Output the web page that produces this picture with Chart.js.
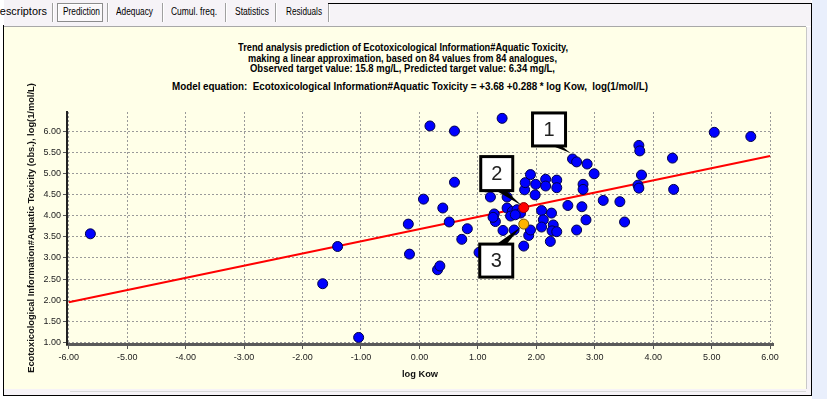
<!DOCTYPE html>
<html><head><meta charset="utf-8">
<script src="https://cdn.jsdelivr.net/npm/chart.js@4.4.0/dist/chart.umd.min.js"></script>
<style>
html,body{margin:0;padding:0;width:827px;height:399px;overflow:hidden;background:#ffffff;font-family:"Liberation Sans",Arial,sans-serif;}
.abs{position:absolute;}
#rightbg{left:812px;top:0;width:15px;height:399px;background:#E9EFFC;}
#tabstrip{left:4px;top:0;width:807px;height:26px;background:#F6F3F7;}
#tabline{left:4px;top:26px;width:802px;height:1px;background:#A8A8A8;}
#panel{left:4px;top:27px;width:802px;height:362px;background:#FFFFE8;}
#rstrip{left:806px;top:27px;width:5px;height:368px;background:#F6F3F7;border-left:1px solid #C8C8C8;box-sizing:border-box;}
#bstrip{left:4px;top:389px;width:807px;height:6px;background:#F6F3F7;}
#bline2{left:70px;top:391px;width:736px;height:1px;background:#D8D8D8;}
#bl{left:3px;top:25px;width:1px;height:371px;background:#000;}
#br{left:811px;top:3px;width:1px;height:393px;background:#000;}
#bb{left:3px;top:395px;width:809px;height:1px;background:#000;}
#bt{left:328px;top:3px;width:484px;height:1px;background:#000;}
.sep{top:3px;width:1px;height:19px;background:#A0A0A0;box-shadow:1px 0 0 #fff;}
.tab{top:6px;font-size:10px;color:#000;white-space:nowrap;transform-origin:0 50%;}
#sel{left:57px;top:3px;width:44px;height:17px;border:1px solid #8C8C8C;background:#FAF8FA;box-shadow:inset 1px 1px 0 #fff;}
.tl{font-weight:bold;font-size:10.5px;color:#000;white-space:nowrap;transform-origin:0 50%;line-height:10px;}
canvas{position:absolute;left:0;top:0;}
</style>
</head><body>
<div id="rightbg" class="abs"></div>
<div id="tabstrip" class="abs"></div>
<div id="sel" class="abs"></div>
<div class="abs sep" style="left:52px"></div>
<div class="abs sep" style="left:107px"></div>
<div class="abs sep" style="left:162px"></div>
<div class="abs sep" style="left:225px"></div>
<div class="abs sep" style="left:275px"></div>
<div class="abs sep" style="left:328px"></div>
<div class="abs tab" data-x0="-8" data-x1="47">Descriptors</div>
<div class="abs tab" data-x0="63" data-x1="100">Prediction</div>
<div class="abs tab" data-x0="116" data-x1="153">Adequacy</div>
<div class="abs tab" data-x0="171" data-x1="217">Cumul. freq.</div>
<div class="abs tab" data-x0="235" data-x1="269">Statistics</div>
<div class="abs tab" data-x0="286" data-x1="322">Residuals</div>
<div id="tabline" class="abs"></div>
<div id="panel" class="abs"></div>
<div id="rstrip" class="abs"></div>
<div id="bstrip" class="abs"></div>
<div id="bline2" class="abs"></div>
<div id="bl" class="abs"></div>
<div id="br" class="abs"></div>
<div id="bb" class="abs"></div>
<div id="bt" class="abs"></div>
<div class="abs tl" data-x0="238" data-x1="568" style="top:42px">Trend analysis prediction of Ecotoxicological Information#Aquatic Toxicity,</div>
<div class="abs tl" data-x0="248" data-x1="557" style="top:53px">making a linear approximation, based on 84 values from 84 analogues,</div>
<div class="abs tl" data-x0="250" data-x1="555" style="top:63px">Observed target value: 15.8 mg/L, Predicted target value: 6.34 mg/L,</div>
<div class="abs tl" data-x0="172" data-x1="648" style="top:81px">Model equation:&nbsp; Ecotoxicological Information#Aquatic Toxicity = +3.68 +0.288 * log Kow,&nbsp; log(1/mol/L)</div>
<canvas id="c" width="827" height="399"></canvas>
<script>
// ---- data ----
const obsX = [-5.63,-1.40,-1.655,-1.04,-0.19,-0.17,0.07,0.18,0.31,0.35,
  0.40,0.51,0.60,0.60,0.725,0.82,1.02,1.14,1.215,1.28,
  1.30,1.415,1.43,1.50,1.50,1.59,1.67,1.73,1.56,1.64,
  1.62,1.785,1.80,1.81,1.87,1.90,1.90,1.99,1.98,2.09,
  2.12,2.09,2.16,2.16,2.26,2.29,2.27,2.35,2.24,2.35,
  2.35,2.54,2.62,2.69,2.69,2.78,2.80,2.80,2.85,2.87,
  2.99,3.145,3.43,3.51,3.755,3.77,3.80,3.74,3.755,4.33,
  4.35,5.045,5.67,1.26];
const obsY = [3.57,3.27,2.39,1.12,3.80,3.09,4.39,6.12,2.72,2.81,
  4.18,3.85,4.79,6.00,3.44,3.69,3.13,4.68,4.44,4.04,
  3.86,6.30,3.65,4.44,4.18,4.10,4.14,4.06,3.99,4.02,
  3.66,3.28,4.61,4.78,3.53,3.66,4.97,4.74,4.49,4.12,
  3.90,3.73,4.86,4.70,4.06,3.78,3.64,3.62,3.39,4.84,
  4.66,4.24,5.34,5.27,3.66,4.21,4.74,4.62,3.90,5.22,
  4.99,4.36,4.33,3.85,5.66,5.53,4.96,4.72,4.65,5.36,
  4.62,5.97,5.87,3.96];
const lineX = [-6, 6];
const lineY = [1.95, 5.41];
const predX = [1.785], predY = [4.19];
const targX = [1.785], targY = [3.80];
const calloutLabels = ['1','2','3'];
const calloutX = [2.62, 1.785, 1.785];
const calloutY = [5.34, 4.19, 3.80];
const xTicks = [-6,-5,-4,-3,-2,-1,0,1,2,3,4,5,6];
const yTicks = [1,1.5,2,2.5,3,3.5,4,4.5,5,5.5,6];
const xTitle = 'log Kow';
const yTitle = 'Ecotoxicological Information#Aquatic Toxicity (obs.), log(1/mol/L)';

// ---- fit the HTML text widths ----
document.querySelectorAll('.tab, .tl').forEach(el=>{
  const x0=+el.dataset.x0, x1=+el.dataset.x1;
  const w=el.getBoundingClientRect().width;
  el.style.left=x0+'px';
  el.style.transform='scaleX('+((x1-x0)/w)+')';
});

const fam = '"Liberation Sans", Arial, sans-serif';
const tickSize = 9;
const titleSize = 9.3;

const toPts = (xs, ys) => xs.map((v,i)=>({x:v, y:ys[i]}));

const calloutStyle = [
  {dx:-40, dy:-46, w:33, h:33, edge:'bottom', t0:20, t1:29, tipDx:-2, tipDy:-6},
  {dx:-43, dy:-51, w:32, h:34, edge:'bottom', t0:15, t1:25, tipDx:-2, tipDy:-2},
  {dx:-44, dy:20,  w:33, h:33, edge:'top',    t0:17, t1:27, tipDx:-3, tipDy:3}
];

const calloutPlugin = {
  id:'callouts',
  afterDatasetsDraw(chart){
    const {ctx, scales:{x, y}} = chart;
    calloutLabels.forEach((lab,i)=>{
      const px=x.getPixelForValue(calloutX[i]), py=y.getPixelForValue(calloutY[i]);
      const s=calloutStyle[i];
      const bx=px+s.dx, by=py+s.dy;
      const ey = s.edge==='bottom' ? by+s.h : by;
      ctx.save();
      ctx.fillStyle='#000';
      ctx.beginPath();
      ctx.moveTo(bx+s.t0, ey);
      ctx.lineTo(bx+s.t1, ey);
      ctx.lineTo(px+s.tipDx, py+s.tipDy);
      ctx.closePath(); ctx.fill();
      ctx.fillStyle='#fff';
      ctx.fillRect(bx,by,s.w,s.h);
      ctx.lineWidth=3; ctx.strokeStyle='#000';
      ctx.strokeRect(bx,by,s.w,s.h);
      ctx.fillStyle='#222';
      ctx.font='20px "Liberation Sans", Arial, sans-serif';
      ctx.textAlign='center'; ctx.textBaseline='middle';
      ctx.fillText(lab, bx+s.w/2, by+s.h/2+1);
      ctx.restore();
    });
  }
};

new Chart(document.getElementById('c'), {
  type:'scatter',
  data:{datasets:[
    {type:'scatter', label:'analogues', data:toPts(obsX,obsY), backgroundColor:'#0000FF', borderColor:'#00004A',
      pointRadius:5, pointBackgroundColor:obsX.map(()=> '#0000FF'), pointBorderColor:obsX.map(()=> '#00004A'), pointBorderWidth:1, order:2},
    {type:'line', label:'trend', data:toPts(lineX,lineY), borderColor:'#FF0000', backgroundColor:'#FF0000', borderWidth:2, pointRadius:0, fill:false, order:3},
    {type:'scatter', label:'predicted', data:toPts(predX,predY), backgroundColor:'#FF0000', borderColor:'#900000',
      pointRadius:5, pointBackgroundColor:['#FF0000'], pointBorderColor:['#900000'], pointBorderWidth:1, order:1},
    {type:'scatter', label:'target', data:toPts(targX,targY), backgroundColor:'#FFB400', borderColor:'#7A5A00',
      pointRadius:5, pointBackgroundColor:['#FFB400'], pointBorderColor:['#7A5A00'], pointBorderWidth:1, order:1}
  ]},
  options:{
    responsive:false, animation:false, devicePixelRatio:1,
    layout:{padding:{top:112, right:54, bottom:15, left:0}},
    plugins:{legend:{display:false}, tooltip:{enabled:false}, title:{display:false}},
    scales:{
      x:{type:'linear', min:-6.03, max:6.05,
        afterBuildTicks:s=>{s.ticks=xTicks.map(v=>({value:v}));},
        afterFit:s=>{s.height=40;},
        ticks:{callback:v=>Number(v).toFixed(2), color:'#222', font:{family:fam, size:tickSize}, padding:3, maxRotation:0, autoSkip:false},
        grid:{color:'#9A9A9A', lineWidth:1, tickLength:5, tickColor:'#555', tickWidth:1},
        border:{display:true, color:'#5A5A5A', width:3, dash:[2,2]},
        title:{display:true, text:xTitle, color:'#111', font:{family:fam, size:titleSize, weight:'bold'}, padding:{top:0, bottom:4}}
      },
      y:{type:'linear', min:0.965, max:6.45,
        afterBuildTicks:s=>{s.ticks=yTicks.map(v=>({value:v}));},
        afterFit:s=>{s.width=67;},
        ticks:{callback:v=>Number(v).toFixed(2), color:'#222', font:{family:fam, size:tickSize}, padding:2, autoSkip:false},
        grid:{color:'#9A9A9A', lineWidth:1, tickLength:4, tickColor:'#555', tickWidth:1},
        border:{display:true, color:'#222', width:2, dash:[2,2]},
        title:{display:true, text:yTitle, color:'#111', font:{family:fam, size:titleSize, weight:'bold'}, padding:{top:26, bottom:0}}
      }
    }
  },
  plugins:[calloutPlugin]
});
</script>
</body></html>
